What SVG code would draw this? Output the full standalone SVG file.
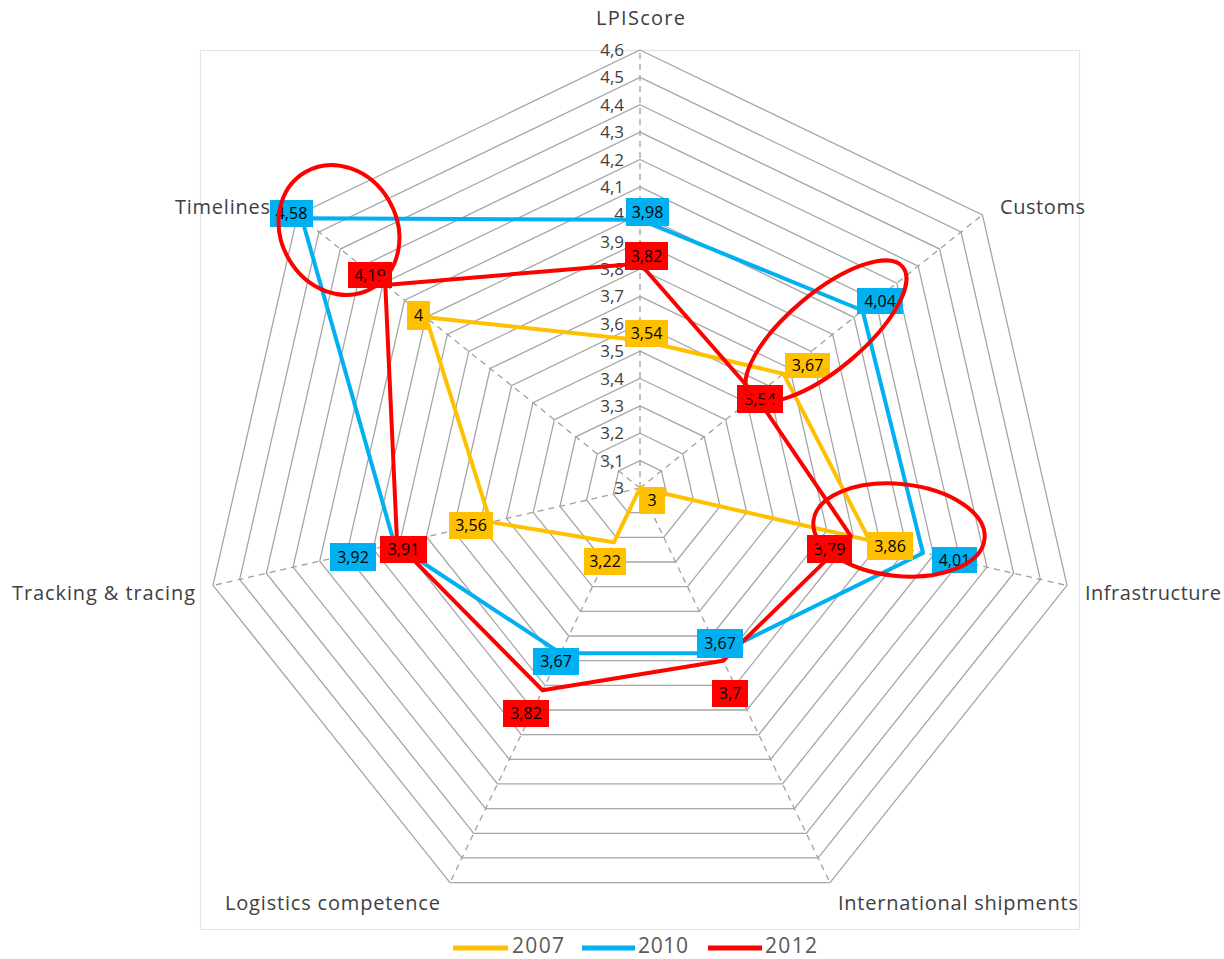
<svg xmlns="http://www.w3.org/2000/svg" xmlns:xlink="http://www.w3.org/1999/xlink" width="1224" height="959" viewBox="0 0 1224 959">
<style>
.ring{fill:none;stroke:#A6A6A6;stroke-width:1.3;vector-effect:non-scaling-stroke}
.axis{stroke:#A0A0A0;stroke-width:1.3;stroke-dasharray:6 5;fill:none}
.tick{font-family:"Open Sans","Liberation Sans",sans-serif;font-size:17px;fill:#404040;text-anchor:end}
.cat{font-family:"Open Sans","Liberation Sans",sans-serif;font-size:20px;fill:#404040}
.s{fill:none;stroke-width:4;stroke-linejoin:round}
.y07{stroke:#FFC000}.y10{stroke:#00B0F0}.y12{stroke:#FF0000}
.b07{fill:#FFC000}.b10{fill:#00B0F0}.b12{fill:#FF0000}
.lbl{font-family:"Open Sans","Liberation Sans",sans-serif;font-size:16px;fill:#000;text-anchor:middle}
.leg{font-family:"Open Sans","Liberation Sans",sans-serif;font-size:21px;fill:#595959}
.ell{fill:none;stroke:#FF0000;stroke-width:4}
</style>
<defs>
<polygon id="hept" class="ring" points="0,-27.375 21.403,-17.068 26.689,6.091 11.877,24.664 -11.877,24.664 -26.689,6.091 -21.403,-17.068"/>
</defs>
<rect width="1224" height="959" fill="#FFFFFF"/>
<rect id="frame" x="200.5" y="50.5" width="879" height="879" fill="none" stroke="#E3E3E3" stroke-width="1.2"/>
<g id="grid" transform="translate(640,488)">
<use xlink:href="#hept" transform="scale(1)"/>
<use xlink:href="#hept" transform="scale(2)"/>
<use xlink:href="#hept" transform="scale(3)"/>
<use xlink:href="#hept" transform="scale(4)"/>
<use xlink:href="#hept" transform="scale(5)"/>
<use xlink:href="#hept" transform="scale(6)"/>
<use xlink:href="#hept" transform="scale(7)"/>
<use xlink:href="#hept" transform="scale(8)"/>
<use xlink:href="#hept" transform="scale(9)"/>
<use xlink:href="#hept" transform="scale(10)"/>
<use xlink:href="#hept" transform="scale(11)"/>
<use xlink:href="#hept" transform="scale(12)"/>
<use xlink:href="#hept" transform="scale(13)"/>
<use xlink:href="#hept" transform="scale(14)"/>
<use xlink:href="#hept" transform="scale(15)"/>
<use xlink:href="#hept" transform="scale(16)"/>
</g>
<g id="axes">
<line class="axis" x1="640" y1="488" x2="640" y2="50"/>
<line class="axis" x1="640" y1="488" x2="982.4" y2="214.9"/>
<line class="axis" x1="640" y1="488" x2="1067" y2="585.5"/>
<line class="axis" x1="640" y1="488" x2="830" y2="882.6"/>
<line class="axis" x1="640" y1="488" x2="450" y2="882.6"/>
<line class="axis" x1="640" y1="488" x2="213" y2="585.5"/>
<line class="axis" x1="640" y1="488" x2="297.6" y2="214.9"/>
</g>
<g id="ticks">
<text class="tick" x="624" y="494">3</text>
<text class="tick" x="624" y="466.6">3,1</text>
<text class="tick" x="624" y="439.3">3,2</text>
<text class="tick" x="624" y="411.9">3,3</text>
<text class="tick" x="624" y="384.5">3,4</text>
<text class="tick" x="624" y="357.1">3,5</text>
<text class="tick" x="624" y="329.8">3,6</text>
<text class="tick" x="624" y="302.4">3,7</text>
<text class="tick" x="624" y="275">3,8</text>
<text class="tick" x="624" y="247.6">3,9</text>
<text class="tick" x="624" y="220.3">4</text>
<text class="tick" x="624" y="192.9">4,1</text>
<text class="tick" x="624" y="165.5">4,2</text>
<text class="tick" x="624" y="138.1">4,3</text>
<text class="tick" x="624" y="110.8">4,4</text>
<text class="tick" x="624" y="83.4">4,5</text>
<text class="tick" x="624" y="56">4,6</text>
</g>
<g id="categories">
<text class="cat" x="596" y="25" textLength="89">LPIScore</text>
<text class="cat" x="1000" y="214" textLength="85">Customs</text>
<text class="cat" x="1085" y="600" textLength="136">Infrastructure</text>
<text class="cat" x="838" y="910" textLength="240">International shipments</text>
<text class="cat" x="225" y="910" textLength="215">Logistics competence</text>
<text class="cat" x="12" y="600" textLength="183">Tracking &amp; tracing</text>
<text class="cat" x="175" y="214" textLength="95">Timelines</text>
</g>
<g id="series-2007">
<polygon class="s y07" points="640,340.2 783.4,373.7 869.5,540.4 640,488 613.9,542.3 490.5,522.1 426,317.3"/>
</g>
<g id="series-2010">
<polygon class="s y10" points="640,219.7 862.6,310.5 923,553 719.6,653.2 560.4,653.2 394.4,544 301.8,218.3"/>
</g>
<g id="series-2012">
<polygon class="s y12" points="640,263.5 755.6,395.8 850.9,536.1 723.1,660.7 542.6,690.3 397.1,543.4 385.3,284.9"/>
</g>
<g id="labels-2007">
<rect class="b07" x="625" y="320" width="43" height="27"/><text class="lbl" x="646.5" y="339">3,54</text>
<rect class="b07" x="785" y="353" width="45" height="25"/><text class="lbl" x="807.5" y="371">3,67</text>
<rect class="b07" x="867" y="532" width="46" height="28"/><text class="lbl" x="890" y="552">3,86</text>
<rect class="b07" x="639" y="487" width="26" height="27"/><text class="lbl" x="652" y="506">3</text>
<rect class="b07" x="584" y="548" width="42" height="27"/><text class="lbl" x="605" y="567">3,22</text>
<rect class="b07" x="449" y="512" width="44" height="27"/><text class="lbl" x="471" y="531">3,56</text>
<rect class="b07" x="407" y="301" width="23" height="29"/><text class="lbl" x="418.5" y="321">4</text>
</g>
<g id="labels-2010">
<rect class="b10" x="626" y="198" width="43" height="28"/><text class="lbl" x="647.5" y="218">3,98</text>
<rect class="b10" x="857" y="288" width="46" height="26"/><text class="lbl" x="880" y="307">4,04</text>
<rect class="b10" x="932" y="547" width="45" height="26"/><text class="lbl" x="954.5" y="566">4,01</text>
<rect class="b10" x="697" y="629" width="46" height="29"/><text class="lbl" x="720" y="649">3,67</text>
<rect class="b10" x="533" y="648" width="46" height="27"/><text class="lbl" x="556" y="667">3,67</text>
<rect class="b10" x="330" y="543" width="46" height="28"/><text class="lbl" x="353" y="563">3,92</text>
<rect class="b10" x="270" y="200" width="43" height="27"/><text class="lbl" x="291.5" y="219">4,58</text>
</g>
<g id="labels-2012">
<rect class="b12" x="625" y="242" width="43" height="28"/><text class="lbl" x="646.5" y="262">3,82</text>
<rect class="b12" x="737" y="385" width="46" height="28"/><text class="lbl" x="760" y="405">3,54</text>
<rect class="b12" x="807" y="535" width="45" height="28"/><text class="lbl" x="829.5" y="555">3,79</text>
<rect class="b12" x="712" y="680" width="36" height="27"/><text class="lbl" x="730" y="699">3,7</text>
<rect class="b12" x="503" y="700" width="46" height="27"/><text class="lbl" x="526" y="719">3,82</text>
<rect class="b12" x="380" y="536" width="47" height="27"/><text class="lbl" x="403.5" y="555">3,91</text>
<rect class="b12" x="348" y="262" width="44" height="26"/><text class="lbl" x="370" y="281">4,19</text>
</g>
<g id="highlights">
<ellipse class="ell" cx="339" cy="230" rx="58" ry="67" transform="rotate(-30 339 230)"/>
<ellipse class="ell" cx="826" cy="331" rx="100" ry="38" transform="rotate(-40 826 331)"/>
<ellipse class="ell" cx="899" cy="530" rx="86" ry="46" transform="rotate(6 899 530)"/>
</g>
<g id="legend">
<line x1="453" y1="948" x2="508" y2="948" stroke="#FFC000" stroke-width="5"/>
<text class="leg" x="512" y="953" textLength="52">2007</text>
<line x1="582" y1="948" x2="635" y2="948" stroke="#00B0F0" stroke-width="5"/>
<text class="leg" x="638" y="953" textLength="50">2010</text>
<line x1="708" y1="948" x2="762" y2="948" stroke="#FF0000" stroke-width="5"/>
<text class="leg" x="765" y="953" textLength="52">2012</text>
</g>
</svg>
